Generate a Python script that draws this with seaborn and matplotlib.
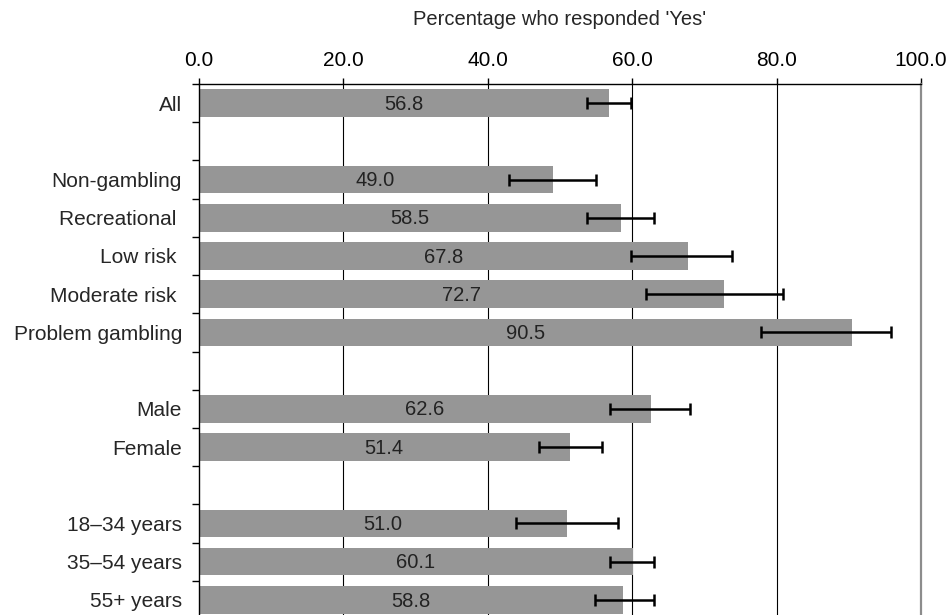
import matplotlib
matplotlib.use("Agg")
import matplotlib.pyplot as plt
import seaborn as sns
import pandas as pd
from matplotlib.ticker import FormatStrFormatter, FixedLocator

# datos
grupos = ["All", "Non-gambling", "Recreational ", "Low risk ", "Moderate risk ",
          "Problem gambling", "Male", "Female", "18\u201334 years", "35\u201354 years",
          "55+ years"]
porcentaje = [56.8, 49.0, 58.5, 67.8, 72.7, 90.5, 62.6, 51.4, 51.0, 60.1, 58.8]
ic_inferior = [53.8, 42.9, 53.8, 59.8, 61.9, 77.8, 56.9, 47.1, 43.9, 56.9, 54.9]
ic_superior = [59.8, 55.0, 63.0, 73.9, 80.9, 95.9, 68.0, 55.9, 58.0, 63.0, 63.0]

# orden con huecos entre bloques
orden = ["All", " ", "Non-gambling", "Recreational ", "Low risk ", "Moderate risk ",
         "Problem gambling", "  ", "Male", "Female", "   ", "18\u201334 years",
         "35\u201354 years", "55+ years"]

df = pd.DataFrame({"Grupo": grupos, "Porcentaje": porcentaje,
                   "Inf": ic_inferior, "Sup": ic_superior})

sns.set_style("white")
plt.rcParams["font.family"] = ["Liberation Sans", "DejaVu Sans"]

fig = plt.figure(figsize=(9.47, 6.15), dpi=100)
ax = fig.add_axes([0.2097, -0.0065, 0.7629, 0.8699])

sns.barplot(data=df, x="Porcentaje", y="Grupo", order=orden, color="#969696",
            saturation=1, width=0.72, linewidth=0, ax=ax)

# barras de error
pos = [orden.index(g) for g in df["Grupo"]]
ax.errorbar(df["Porcentaje"], pos,
            xerr=[df["Porcentaje"] - df["Inf"], df["Sup"] - df["Porcentaje"]],
            fmt="none", ecolor="black", elinewidth=1.8, capsize=4.5, capthick=1.8,
            zorder=4)

# etiquetas dentro de las barras
for v, p in zip(df["Porcentaje"], pos):
    ax.text(v / 2, p + 0.03, f"{v:.1f}", ha="center", va="center", fontsize=14.5,
            color="#222222", zorder=5)

ax.set_xlim(0, 100)
ax.set_ylim(len(orden) - 0.5, -0.5)
ax.xaxis.tick_top()
ax.xaxis.set_label_position("top")
ax.xaxis.set_major_formatter(FormatStrFormatter("%.1f"))
ax.set_xticks([0, 20, 40, 60, 80, 100])
ax.tick_params(axis="x", direction="out", length=4, width=1, pad=6,
               labelsize=15, colors="black")
ax.set_xlabel("Percentage who responded 'Yes'", fontsize=14.5, labelpad=19)

ax.yaxis.set_minor_locator(FixedLocator([i - 0.5 for i in range(len(orden) + 1)]))
ax.tick_params(axis="y", which="major", length=0, pad=12, labelsize=15)
ax.tick_params(axis="y", which="minor", direction="out", length=5, width=1,
               left=True, color="black")
ax.set_ylabel("")

ax.set_axisbelow(True)
ax.grid(axis="x", color="black", linewidth=0.8)
ax.grid(axis="y", visible=False)
lineas = ax.get_xgridlines()
lineas[0].set_visible(False)
lineas[-1].set_visible(False)

for lado in ["top", "left"]:
    ax.spines[lado].set_color("black")
    ax.spines[lado].set_linewidth(1)
ax.spines["right"].set_color("#8c8c8c")
ax.spines["right"].set_linewidth(1.6)
ax.spines["bottom"].set_visible(False)

fig.savefig("out.png", dpi=100)
